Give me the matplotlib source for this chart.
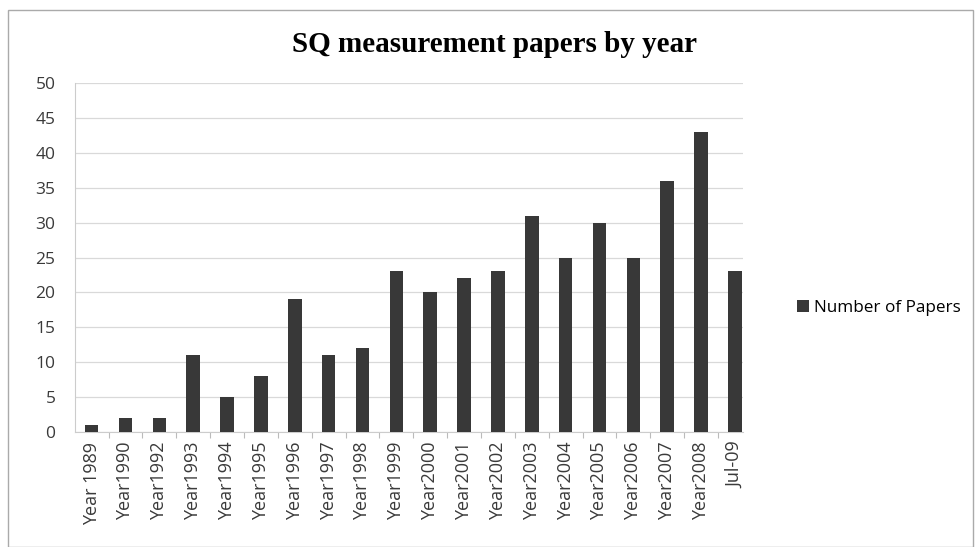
import matplotlib.pyplot as plt
from matplotlib.patches import Rectangle

# papers per year
anos = ['Year 1989', 'Year1990', 'Year1992', 'Year1993', 'Year1994', 'Year1995',
        'Year1996', 'Year1997', 'Year1998', 'Year1999', 'Year2000', 'Year2001',
        'Year2002', 'Year2003', 'Year2004', 'Year2005', 'Year2006', 'Year2007',
        'Year2008', 'Jul-09']
papers = [1, 2, 2, 11, 5, 8, 19, 11, 12, 23, 20, 22, 23, 31, 25, 30, 25, 36, 43, 23]

fig = plt.figure(figsize=(9.75, 5.47), dpi=100)
ax = fig.add_axes([75 / 975, 1 - 432 / 547, (743 - 75) / 975, (432 - 83) / 547])

x = range(len(anos))
ax.bar(x, papers, width=0.4, color='#383838', label='Number of Papers', zorder=3)

ax.set_xlim(-0.49, len(anos) - 0.76)
ax.set_ylim(0, 50)
ax.set_yticks(range(0, 51, 5))
ax.grid(axis='y', color='#d9d9d9', linewidth=0.9, zorder=0)

ax.set_xticks([i + 0.5 for i in range(len(anos) - 1)], minor=False)
ax.set_xticklabels([])
ax.tick_params(axis='x', length=4, color='#bbbbbb')
ax.set_xticks(list(x), minor=True)
ax.set_xticklabels(anos, minor=True, rotation=90, fontsize=13,
                   family='Open Sans', color='#3a3a3a')
ax.tick_params(axis='x', which='minor', length=0, pad=7)
ax.tick_params(axis='y', length=0, pad=14, labelsize=12.5, labelcolor='#3a3a3a')
for lab in ax.get_yticklabels():
    lab.set_family('Open Sans')

for lado in ['top', 'right']:
    ax.spines[lado].set_visible(False)
ax.spines['left'].set_color('#cccccc')
ax.spines['bottom'].set_color('#cccccc')

fig.text(495 / 975, 1 - 44 / 547, 'SQ measurement papers by year', ha='center',
         va='center', fontsize=21, fontweight='bold', family='Liberation Serif')

fig.legend(loc='center left', bbox_to_anchor=(782 / 975, 1 - 308 / 547),
           frameon=False, handlelength=0.7, handleheight=0.7,
           handletextpad=0.3, prop={'family': 'Open Sans', 'size': 12.3})

# moldura do gráfico
fig.patches.append(Rectangle((8 / 975, 0.0), 965 / 975, 1 - 10 / 547,
                             transform=fig.transFigure, fill=False,
                             edgecolor='#aaaaaa', linewidth=1))

plt.savefig('out.png', dpi=100)
